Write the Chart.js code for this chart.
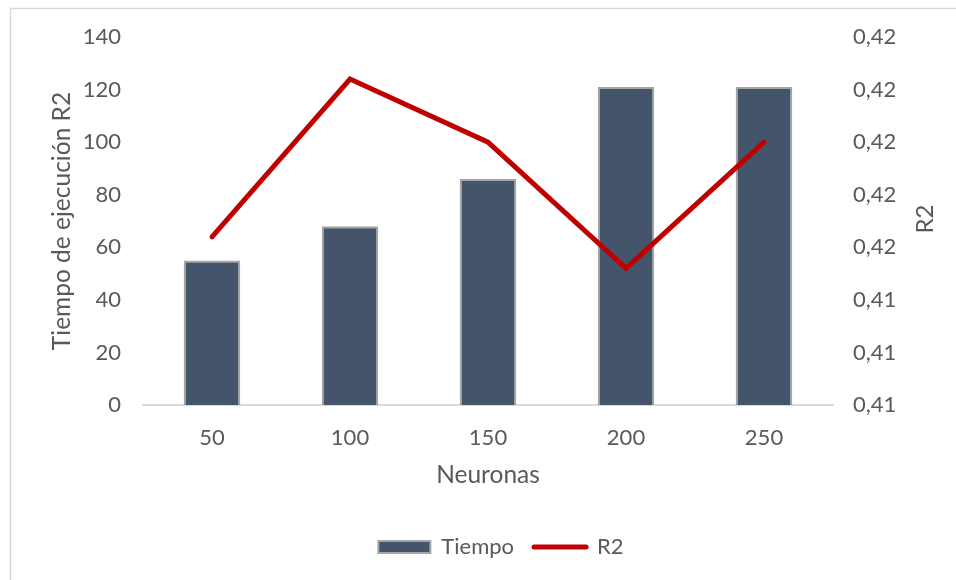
<!DOCTYPE html>
<html>
<head>
<meta charset="utf-8">
<script src="https://cdn.jsdelivr.net/npm/chart.js@4/dist/chart.umd.min.js"></script>
<style>
  html, body { margin: 0; padding: 0; background: #ffffff; }
  #wrap { width: 956px; height: 580px; position: relative; }
</style>
</head>
<body>
<div id="wrap"><canvas id="c" width="956" height="580"></canvas></div>
<script>
// Neuronas por capa
const categories = ['50', '100', '150', '200', '250'];
// Tiempo de ejecución
const tiempo = [55, 68, 86, 121, 121];
// Coeficiente R2
const r2 = [0.4152, 0.4182, 0.4170, 0.4146, 0.4170];
// Etiquetas del eje secundario (de abajo arriba)
const r2TickLabels = ['0,41', '0,41', '0,41', '0,42', '0,42', '0,42', '0,42', '0,42'];
const leftTicks = [0, 20, 40, 60, 80, 100, 120, 140];

const FONT = 'Lato, "Open Sans", sans-serif';
const TEXT = '#595959';

// Marco exterior, leyenda algo desplazada y título del eje secundario
const decor = {
  id: 'decor',
  afterLayout(chart) {
    const lg = chart.legend;
    if (lg) { lg.left += 23; lg.right += 23; }
  },
  beforeDraw(chart) {
    const ctx = chart.ctx;
    ctx.save();
    ctx.fillStyle = '#ffffff';
    ctx.fillRect(0, 0, chart.width, chart.height);
    ctx.strokeStyle = '#d9d9d9';
    ctx.lineWidth = 1.5;
    ctx.strokeRect(10.5, 8.5, chart.width + 20, chart.height + 20);
    ctx.restore();
  },
  afterDraw(chart) {
    const ctx = chart.ctx;
    const area = chart.chartArea;
    ctx.save();
    ctx.translate(925, (area.top + area.bottom) / 2 - 2);
    ctx.rotate(-Math.PI / 2);
    ctx.font = '24px ' + FONT;
    ctx.fillStyle = TEXT;
    ctx.textAlign = 'center';
    ctx.textBaseline = 'middle';
    ctx.fillText('R2', 0, 0);
    ctx.restore();
  }
};

new Chart(document.getElementById('c'), {
  data: {
    labels: categories,
    datasets: [
      {
        type: 'bar',
        label: 'Tiempo',
        data: tiempo,
        yAxisID: 'y',
        backgroundColor: '#44546A',
        borderColor: '#A5A5A5',
        borderWidth: 2,
        categoryPercentage: 1,
        barPercentage: 0.41,
        order: 2
      },
      {
        type: 'line',
        label: 'R2',
        data: r2,
        yAxisID: 'y2',
        borderColor: '#C00000',
        backgroundColor: '#C00000',
        borderWidth: 5,
        borderCapStyle: 'round',
        pointRadius: 0,
        pointHoverRadius: 0,
        tension: 0,
        order: 1
      }
    ]
  },
  options: {
    responsive: false,
    animation: false,
    layout: { padding: { top: 37, bottom: 12, left: 0, right: 0 } },
    plugins: {
      tooltip: { enabled: false },
      legend: {
        position: 'bottom',
        labels: {
          usePointStyle: true,
          pointStyleWidth: 52,
          boxHeight: 12,
          padding: 20,
          color: TEXT,
          font: { family: FONT, size: 22 },
          generateLabels(chart) {
            const items = Chart.defaults.plugins.legend.labels.generateLabels(chart);
            items.forEach(it => {
              if (it.datasetIndex === 1) {
                it.pointStyle = 'line';
                it.lineWidth = 5;
                it.strokeStyle = '#C00000';
                it.lineCap = 'round';
              } else {
                it.pointStyle = 'rect';
                it.lineWidth = 2;
                it.strokeStyle = '#A5A5A5';
                it.fillStyle = '#44546A';
              }
            });
            return items.sort((a, b) => a.datasetIndex - b.datasetIndex);
          }
        }
      }
    },
    scales: {
      x: {
        grid: { display: false, drawTicks: false },
        border: { display: true, color: '#d9d9d9', width: 2 },
        ticks: { color: TEXT, font: { family: FONT, size: 22 }, padding: 20 },
        title: {
          display: true, text: 'Neuronas', color: TEXT,
          font: { family: FONT, size: 24.5 }, padding: { top: 0, bottom: 26 }
        },
        afterFit(scale) { scale.height = 111; }
      },
      y: {
        position: 'left',
        min: 0, max: 140,
        afterBuildTicks(scale) { scale.ticks = leftTicks.map(v => ({ value: v })); },
        grid: { display: false, drawTicks: false },
        border: { display: false },
        ticks: { color: TEXT, font: { family: FONT, size: 22 }, padding: 22 },
        title: {
          display: true, text: 'Tiempo de ejecución R2', color: TEXT,
          font: { family: FONT, size: 24.5 }, padding: { top: 47, bottom: 0 }
        },
        afterFit(scale) { scale.width = 143; }
      },
      y2: {
        position: 'right',
        min: 0.412, max: 0.419,
        afterBuildTicks(scale) {
          scale.ticks = r2TickLabels.map((_, i) => ({ value: 0.412 + i * 0.001 }));
        },
        grid: { display: false, drawTicks: false },
        border: { display: false },
        ticks: {
          color: TEXT, font: { family: FONT, size: 22 }, padding: 20,
          callback(value, index) { return r2TickLabels[index]; }
        },
        afterFit(scale) { scale.width = 123; }
      }
    }
  },
  plugins: [decor]
});
</script>
</body>
</html>
